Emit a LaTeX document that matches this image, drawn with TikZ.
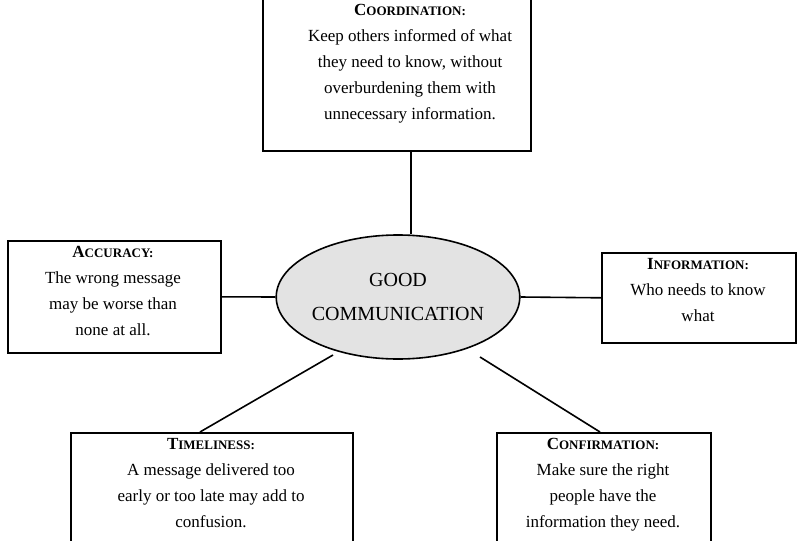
\documentclass[tikz,border=0pt]{standalone}
\usepackage{fontspec}
\setmainfont{Liberation Serif}
\usetikzlibrary{shapes.geometric}
\newcommand{\fsc}[2]{\textbf{#1{\fontsize{13}{26}\selectfont #2}}}
\begin{document}
\begin{tikzpicture}[x=1pt,y=-1pt,
  box/.style={draw,line width=1.6pt,fill=white,inner sep=0pt},
  txt/.style={align=center,font=\fontsize{17}{26}\selectfont,inner sep=0pt},
  link/.style={line width=1.6pt}]
\useasboundingbox (0,0) rectangle (799,540);
\node[draw,line width=1.6pt,fill=gray!22,ellipse,inner sep=0pt,minimum width=226pt,minimum height=124pt,
  align=center,font=\fontsize{20}{34}\selectfont] (c) at (398,297) {GOOD\\COMMUNICATION};
\node[box,minimum width=268pt,minimum height=160pt,anchor=north west] (co) at (262,-10) {};
\node[box,minimum width=213pt,minimum height=112pt,anchor=north west] (ac) at (7,240) {};
\node[box,minimum width=194pt,minimum height=90pt,anchor=north west] (in) at (601,252) {};
\node[box,minimum width=282pt,minimum height=120pt,anchor=north west] (ti) at (70,432) {};
\node[box,minimum width=214pt,minimum height=120pt,anchor=north west] (cf) at (496,432) {};
\coordinate (tiT) at (200,432);
\coordinate (cfT) at (600,432);
\coordinate (tiE) at (333,355);
\coordinate (cfE) at (480,357);
\draw[link] (co.south -| 411,0) -- (c.north -| 411,0);
\draw[link] (ac.east) -- (c.west);
\draw[link] (in.west) -- (c.east);
\draw[link] (tiT) -- (tiE);
\draw[link] (cfT) -- (cfE);
\node[txt,anchor=north] (cot) at (410,4) {\fsc{C}{OORDINATION:}\\Keep others informed of what\\they need to know, without\\overburdening them with\\unnecessary information.};
\node[txt,anchor=north] (act) at (113,246) {\fsc{A}{CCURACY:}\\The wrong message\\may be worse than\\none at all.};
\node[txt,anchor=north] (int) at (698,258) {\fsc{I}{NFORMATION:}\\Who needs to know\\what};
\node[txt,anchor=north] (tit) at (211,438) {\fsc{T}{IMELINESS:}\\A message delivered too\\early or too late may add to\\confusion.};
\node[txt,anchor=north] (cft) at (603,438) {\fsc{C}{ONFIRMATION:}\\Make sure the right\\people have the\\information they need.};
\end{tikzpicture}
\end{document}
